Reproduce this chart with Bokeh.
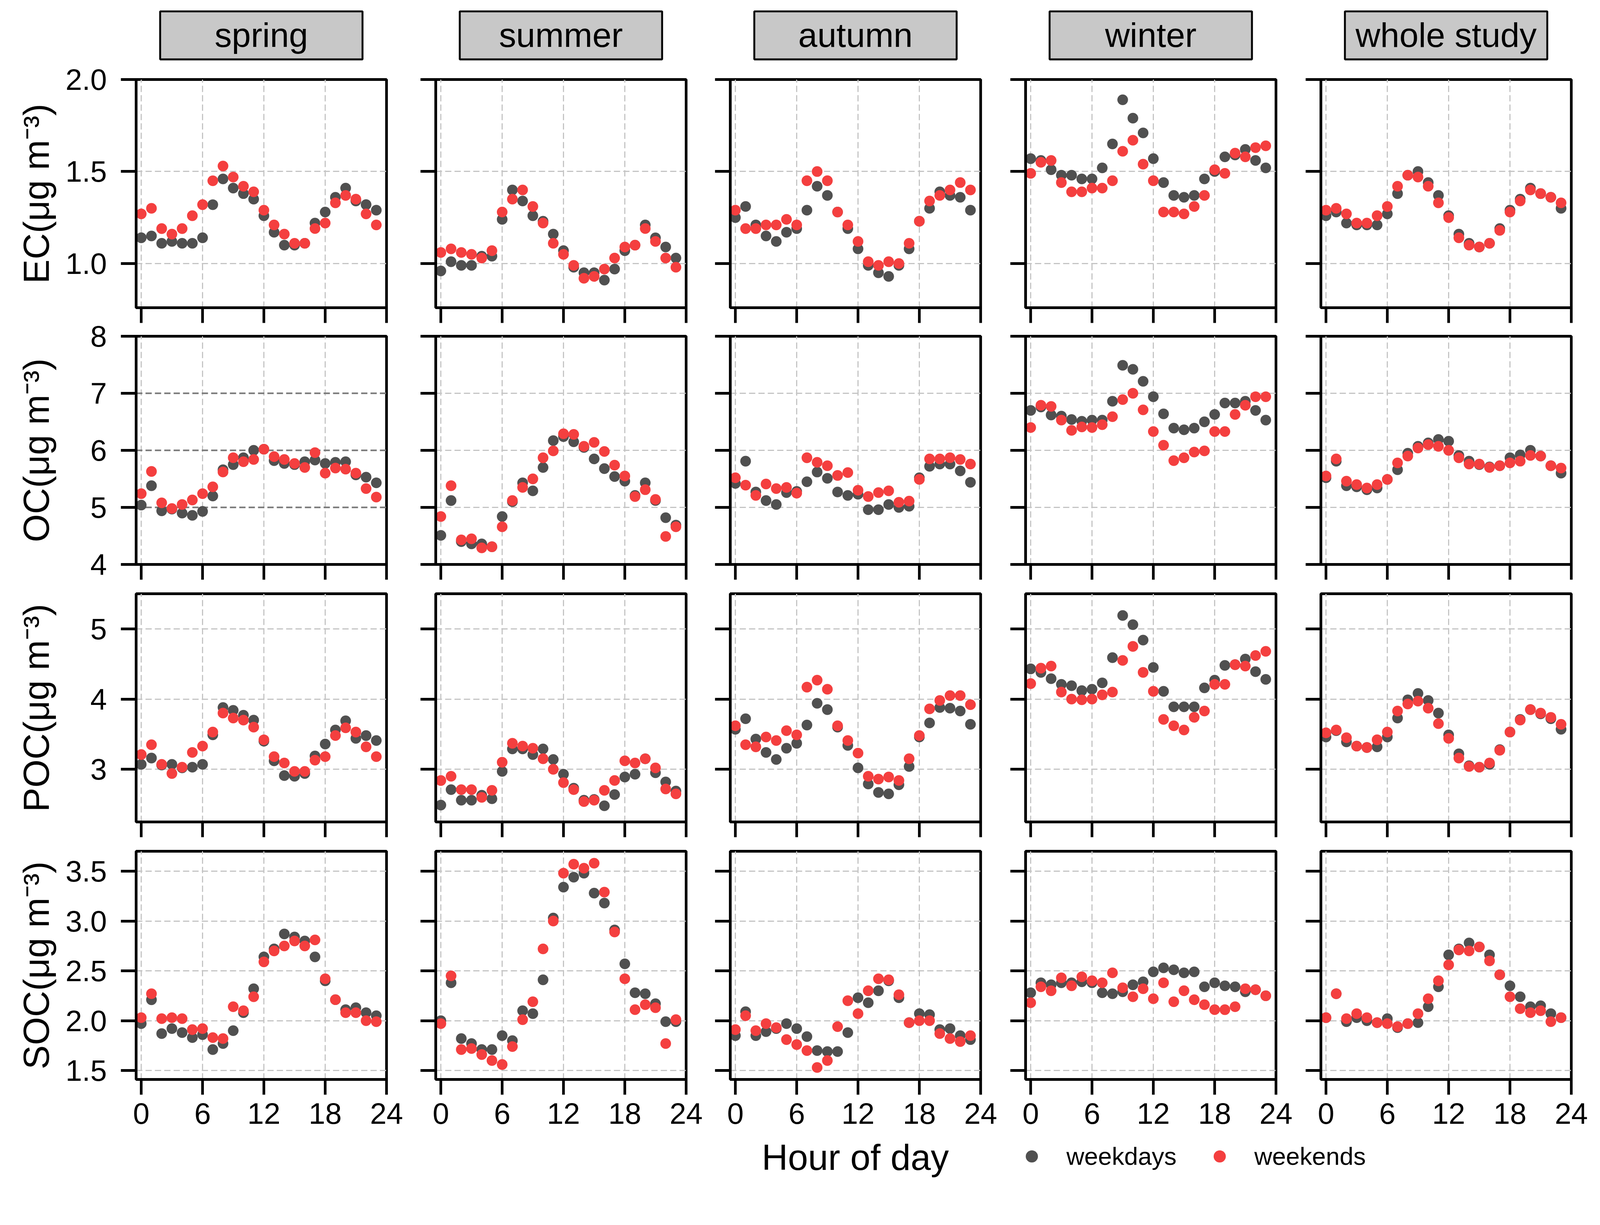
from bokeh.plotting import figure
from bokeh.layouts import row, column
from bokeh.models import (FixedTicker, CustomJSTickFormatter, NumeralTickFormatter,
                          Range1d, Label, Legend, LegendItem)
from bokeh.core.properties import value
from bokeh.embed import file_html
from bokeh.resources import INLINE

# ---------------- data ----------------
hours = list(range(24))
seasons = ["spring", "summer", "autumn", "winter", "whole study"]
species = ["EC", "OC", "POC", "SOC"]
x_ticks = [0, 6, 12, 18, 24]

# EC
ec_spring_wd = [1.14, 1.15, 1.11, 1.12, 1.11, 1.11, 1.14, 1.32, 1.46, 1.41, 1.38, 1.35, 1.26, 1.17, 1.10, 1.10, 1.11, 1.22, 1.28, 1.36, 1.41, 1.34, 1.32, 1.29]
ec_spring_we = [1.27, 1.30, 1.19, 1.16, 1.19, 1.26, 1.32, 1.45, 1.53, 1.47, 1.42, 1.39, 1.29, 1.21, 1.16, 1.11, 1.11, 1.19, 1.22, 1.33, 1.37, 1.35, 1.27, 1.21]
ec_summer_wd = [0.96, 1.01, 0.99, 0.99, 1.04, 1.04, 1.24, 1.40, 1.34, 1.26, 1.23, 1.16, 1.07, 0.98, 0.95, 0.95, 0.91, 0.97, 1.07, 1.10, 1.21, 1.14, 1.09, 1.03]
ec_summer_we = [1.06, 1.08, 1.06, 1.05, 1.03, 1.07, 1.28, 1.35, 1.40, 1.31, 1.22, 1.11, 1.05, 0.99, 0.92, 0.93, 0.97, 1.03, 1.09, 1.10, 1.19, 1.12, 1.03, 0.98]
ec_autumn_wd = [1.25, 1.31, 1.21, 1.15, 1.12, 1.17, 1.19, 1.29, 1.42, 1.37, 1.28, 1.19, 1.08, 0.99, 0.95, 0.93, 0.99, 1.08, 1.23, 1.30, 1.39, 1.37, 1.36, 1.29]
ec_autumn_we = [1.29, 1.19, 1.19, 1.21, 1.21, 1.24, 1.21, 1.45, 1.50, 1.45, 1.28, 1.21, 1.12, 1.01, 0.99, 1.01, 1.00, 1.11, 1.23, 1.34, 1.37, 1.40, 1.44, 1.40]
ec_winter_wd = [1.57, 1.56, 1.51, 1.48, 1.48, 1.46, 1.46, 1.52, 1.65, 1.89, 1.79, 1.71, 1.57, 1.44, 1.37, 1.36, 1.37, 1.46, 1.50, 1.58, 1.59, 1.62, 1.56, 1.52]
ec_winter_we = [1.49, 1.55, 1.56, 1.44, 1.39, 1.39, 1.41, 1.41, 1.45, 1.61, 1.67, 1.54, 1.45, 1.28, 1.28, 1.27, 1.31, 1.37, 1.51, 1.49, 1.60, 1.58, 1.63, 1.64]
ec_whole_wd = [1.26, 1.28, 1.22, 1.21, 1.21, 1.21, 1.27, 1.38, 1.48, 1.50, 1.44, 1.37, 1.26, 1.16, 1.11, 1.09, 1.11, 1.19, 1.29, 1.35, 1.41, 1.38, 1.36, 1.30]
ec_whole_we = [1.29, 1.30, 1.27, 1.22, 1.22, 1.26, 1.31, 1.42, 1.48, 1.47, 1.42, 1.33, 1.25, 1.14, 1.10, 1.09, 1.11, 1.18, 1.28, 1.34, 1.40, 1.38, 1.36, 1.33]

# OC
oc_spring_wd = [5.04, 5.38, 4.94, 4.97, 4.90, 4.86, 4.93, 5.20, 5.66, 5.75, 5.87, 6.00, 6.02, 5.82, 5.77, 5.75, 5.80, 5.83, 5.77, 5.79, 5.80, 5.57, 5.53, 5.43]
oc_spring_we = [5.24, 5.63, 5.08, 4.98, 5.05, 5.13, 5.24, 5.36, 5.62, 5.87, 5.80, 5.84, 6.02, 5.89, 5.84, 5.77, 5.70, 5.96, 5.60, 5.69, 5.67, 5.60, 5.33, 5.18]
oc_summer_wd = [4.51, 5.12, 4.40, 4.36, 4.36, 4.31, 4.84, 5.10, 5.43, 5.29, 5.70, 6.17, 6.24, 6.15, 6.05, 5.85, 5.68, 5.54, 5.46, 5.21, 5.43, 5.12, 4.82, 4.69]
oc_summer_we = [4.84, 5.38, 4.43, 4.45, 4.29, 4.31, 4.66, 5.12, 5.35, 5.50, 5.87, 5.99, 6.29, 6.28, 6.07, 6.14, 5.98, 5.74, 5.55, 5.19, 5.31, 5.14, 4.49, 4.66]
oc_autumn_wd = [5.42, 5.81, 5.27, 5.12, 5.05, 5.26, 5.28, 5.45, 5.62, 5.51, 5.27, 5.21, 5.23, 4.96, 4.96, 5.05, 5.00, 5.02, 5.52, 5.72, 5.76, 5.76, 5.64, 5.44]
oc_autumn_we = [5.52, 5.39, 5.21, 5.41, 5.33, 5.35, 5.25, 5.87, 5.79, 5.73, 5.56, 5.61, 5.30, 5.19, 5.26, 5.29, 5.09, 5.11, 5.49, 5.85, 5.85, 5.87, 5.84, 5.76]
oc_winter_wd = [6.70, 6.76, 6.62, 6.60, 6.54, 6.51, 6.53, 6.53, 6.86, 7.49, 7.42, 7.21, 6.94, 6.64, 6.39, 6.36, 6.39, 6.50, 6.63, 6.83, 6.83, 6.86, 6.70, 6.53]
oc_winter_we = [6.40, 6.79, 6.77, 6.53, 6.35, 6.41, 6.40, 6.45, 6.59, 6.89, 7.00, 6.71, 6.33, 6.09, 5.82, 5.87, 5.97, 5.99, 6.33, 6.33, 6.63, 6.79, 6.94, 6.94]
oc_whole_wd = [5.52, 5.81, 5.38, 5.36, 5.31, 5.34, 5.49, 5.66, 5.95, 6.07, 6.13, 6.19, 6.16, 5.91, 5.81, 5.75, 5.71, 5.73, 5.87, 5.92, 6.00, 5.90, 5.73, 5.60]
oc_whole_we = [5.55, 5.85, 5.46, 5.40, 5.34, 5.40, 5.49, 5.78, 5.90, 6.04, 6.10, 6.07, 6.00, 5.87, 5.76, 5.76, 5.70, 5.73, 5.78, 5.81, 5.91, 5.90, 5.73, 5.69]

# POC
poc_spring_wd = [3.07, 3.16, 3.06, 3.07, 3.02, 3.03, 3.07, 3.49, 3.88, 3.84, 3.77, 3.70, 3.40, 3.12, 2.91, 2.90, 2.94, 3.19, 3.36, 3.56, 3.69, 3.44, 3.48, 3.41]
poc_spring_we = [3.21, 3.35, 3.07, 2.94, 3.03, 3.24, 3.33, 3.53, 3.80, 3.73, 3.70, 3.60, 3.42, 3.18, 3.09, 2.97, 2.97, 3.13, 3.18, 3.48, 3.59, 3.53, 3.32, 3.18]
poc_summer_wd = [2.49, 2.71, 2.56, 2.56, 2.63, 2.58, 2.97, 3.29, 3.29, 3.21, 3.29, 3.14, 2.93, 2.73, 2.56, 2.57, 2.48, 2.64, 2.89, 2.93, 3.15, 2.95, 2.82, 2.69]
poc_summer_we = [2.84, 2.90, 2.71, 2.71, 2.60, 2.70, 3.10, 3.37, 3.33, 3.30, 3.15, 3.00, 2.81, 2.71, 2.54, 2.56, 2.70, 2.84, 3.12, 3.09, 3.15, 3.02, 2.72, 2.65]
poc_autumn_wd = [3.57, 3.72, 3.43, 3.24, 3.14, 3.30, 3.37, 3.63, 3.94, 3.85, 3.60, 3.34, 3.02, 2.79, 2.67, 2.65, 2.78, 3.04, 3.46, 3.66, 3.88, 3.87, 3.83, 3.64]
poc_autumn_we = [3.62, 3.35, 3.32, 3.46, 3.41, 3.55, 3.49, 4.17, 4.27, 4.14, 3.62, 3.41, 3.23, 2.90, 2.86, 2.89, 2.84, 3.15, 3.48, 3.86, 3.98, 4.05, 4.05, 3.92]
poc_winter_wd = [4.43, 4.38, 4.29, 4.21, 4.19, 4.12, 4.14, 4.23, 4.59, 5.19, 5.06, 4.84, 4.45, 4.11, 3.89, 3.89, 3.89, 4.16, 4.27, 4.48, 4.49, 4.57, 4.39, 4.28]
poc_winter_we = [4.22, 4.44, 4.47, 4.10, 4.00, 3.99, 4.00, 4.06, 4.10, 4.55, 4.75, 4.38, 4.11, 3.71, 3.62, 3.56, 3.74, 3.83, 4.21, 4.21, 4.49, 4.47, 4.62, 4.68]
poc_whole_wd = [3.46, 3.55, 3.39, 3.33, 3.31, 3.32, 3.46, 3.73, 3.99, 4.08, 3.98, 3.80, 3.49, 3.22, 3.05, 3.03, 3.07, 3.28, 3.53, 3.71, 3.85, 3.79, 3.72, 3.57]
poc_whole_we = [3.52, 3.56, 3.45, 3.33, 3.31, 3.42, 3.53, 3.83, 3.93, 3.97, 3.87, 3.65, 3.44, 3.16, 3.04, 3.03, 3.09, 3.27, 3.53, 3.70, 3.85, 3.80, 3.74, 3.64]

# SOC
soc_spring_wd = [1.97, 2.21, 1.87, 1.92, 1.88, 1.83, 1.86, 1.71, 1.77, 1.90, 2.08, 2.32, 2.64, 2.72, 2.87, 2.84, 2.80, 2.64, 2.40, 2.21, 2.11, 2.13, 2.08, 2.05]
soc_spring_we = [2.03, 2.27, 2.02, 2.03, 2.02, 1.91, 1.92, 1.83, 1.82, 2.14, 2.10, 2.24, 2.59, 2.70, 2.75, 2.80, 2.75, 2.81, 2.42, 2.21, 2.08, 2.08, 2.00, 1.99]
soc_summer_wd = [2.00, 2.38, 1.82, 1.77, 1.71, 1.71, 1.85, 1.80, 2.10, 2.07, 2.41, 3.03, 3.34, 3.44, 3.48, 3.28, 3.18, 2.91, 2.57, 2.28, 2.27, 2.17, 1.99, 1.99]
soc_summer_we = [1.97, 2.45, 1.71, 1.72, 1.66, 1.60, 1.56, 1.74, 2.01, 2.19, 2.72, 3.00, 3.48, 3.57, 3.53, 3.58, 3.29, 2.89, 2.42, 2.11, 2.16, 2.13, 1.77, 2.01]
soc_autumn_wd = [1.85, 2.09, 1.85, 1.89, 1.92, 1.97, 1.92, 1.84, 1.70, 1.69, 1.69, 1.88, 2.23, 2.18, 2.30, 2.40, 2.23, 1.98, 2.07, 2.06, 1.91, 1.92, 1.85, 1.81]
soc_autumn_we = [1.91, 2.05, 1.90, 1.97, 1.93, 1.81, 1.76, 1.70, 1.53, 1.60, 1.94, 2.20, 2.07, 2.30, 2.42, 2.41, 2.26, 1.98, 2.00, 2.00, 1.87, 1.82, 1.79, 1.85]
soc_winter_wd = [2.28, 2.38, 2.36, 2.38, 2.38, 2.39, 2.38, 2.28, 2.27, 2.29, 2.36, 2.39, 2.49, 2.53, 2.51, 2.48, 2.49, 2.34, 2.38, 2.35, 2.34, 2.29, 2.31, 2.25]
soc_winter_we = [2.18, 2.34, 2.30, 2.43, 2.35, 2.44, 2.40, 2.38, 2.48, 2.33, 2.24, 2.32, 2.22, 2.38, 2.19, 2.30, 2.21, 2.16, 2.11, 2.11, 2.14, 2.32, 2.31, 2.25]
soc_whole_wd = [2.03, 2.27, 1.99, 2.03, 2.00, 1.98, 2.02, 1.93, 1.97, 1.98, 2.14, 2.34, 2.66, 2.72, 2.78, 2.74, 2.66, 2.46, 2.35, 2.24, 2.14, 2.15, 2.07, 2.03]
soc_whole_we = [2.03, 2.27, 2.02, 2.07, 2.03, 1.98, 1.97, 1.94, 1.97, 2.07, 2.22, 2.40, 2.56, 2.71, 2.70, 2.74, 2.60, 2.46, 2.24, 2.12, 2.08, 2.10, 1.99, 2.03]

weekdays = {
    "EC": [ec_spring_wd, ec_summer_wd, ec_autumn_wd, ec_winter_wd, ec_whole_wd],
    "OC": [oc_spring_wd, oc_summer_wd, oc_autumn_wd, oc_winter_wd, oc_whole_wd],
    "POC": [poc_spring_wd, poc_summer_wd, poc_autumn_wd, poc_winter_wd, poc_whole_wd],
    "SOC": [soc_spring_wd, soc_summer_wd, soc_autumn_wd, soc_winter_wd, soc_whole_wd],
}
weekends = {
    "EC": [ec_spring_we, ec_summer_we, ec_autumn_we, ec_winter_we, ec_whole_we],
    "OC": [oc_spring_we, oc_summer_we, oc_autumn_we, oc_winter_we, oc_whole_we],
    "POC": [poc_spring_we, poc_summer_we, poc_autumn_we, poc_winter_we, poc_whole_we],
    "SOC": [soc_spring_we, soc_summer_we, soc_autumn_we, soc_winter_we, soc_whole_we],
}
y_limits = {"EC": (0.76, 2.0), "OC": (4.0, 8.0), "POC": (2.25, 5.5), "SOC": (1.41, 3.70)}
y_ticks = {"EC": [1.0, 1.5, 2.0], "OC": [4, 5, 6, 7, 8], "POC": [3, 4, 5], "SOC": [1.5, 2.0, 2.5, 3.0, 3.5]}
y_format = {"EC": "0.0", "OC": "0", "POC": "0", "SOC": "0.0"}

# ---------------- style / layout (page px) ----------------
FONT = "Liberation Sans"
DARK = "#505050"
RED = "#f43f3f"
GRID = "#c4c4c4"
S = 1 / 1.025                      # rendering scale compensation


def px(v):
    return v * S


FRAME_W = round(px(657))
FRAME_H = round(px(599))
COL_L = [round(px(v)) for v in (365, 1151, 1924, 2699, 3474)]
ROW_T = [round(px(v)) for v in (216, 890, 1565, 2241)]
RIGHT_B = [47, 47, 47, 47, 50]
LEFT_B = []
fig_left = 8
for j in range(5):
    LEFT_B.append(COL_L[j] - fig_left)
    fig_left = COL_L[j] + FRAME_W + RIGHT_B[j]
col_widths = [LEFT_B[j] + FRAME_W + RIGHT_B[j] for j in range(5)]
total_w = sum(col_widths)

TOP_B1 = 48
HEADER_H = ROW_T[0] - TOP_B1 - 8
BOTTOM_B = [40, 40, 40, 146]
TOP_B = [TOP_B1]
for i in range(1, 4):
    TOP_B.append(ROW_T[i] - (ROW_T[i - 1] + FRAME_H + BOTTOM_B[i - 1]))
strip_top = ROW_T[3] + FRAME_H + BOTTOM_B[3]
CONTENT_BOTTOM = round(px(3102))
strip_h = CONTENT_BOTTOM - strip_top

TICK = round(px(40))
LW = px(7)
TICK_FONT = "%.1fpx" % px(78)
YLAB_FONT = "%.1fpx" % px(95)
YLAB_STANDOFF = {"EC": 20, "OC": 83, "POC": 83, "SOC": 20}
MARKER = px(28)
BOX_W = px(531)
BOX_TOP = px(37.5) - 8
BOX_BOT = px(163.5) - 8
HEADER_TEXT_Y = px(100) - 8

blank = CustomJSTickFormatter(code="return ''")


def hide_labels(axis):
    axis.formatter = blank
    axis.major_label_text_font_size = "1px"
    axis.major_label_standoff = 0


def make_panel(i, sp, j):
    p = figure(frame_width=FRAME_W, frame_height=FRAME_H,
               x_range=Range1d(-0.5, 24), y_range=Range1d(*y_limits[sp]),
               min_border_left=LEFT_B[j], min_border_right=RIGHT_B[j],
               min_border_top=TOP_B[i], min_border_bottom=BOTTOM_B[i],
               toolbar_location=None, output_backend="svg", title=None)
    p.outline_line_color = "black"
    p.outline_line_width = LW
    for ax in (p.xaxis, p.yaxis):
        ax.axis_line_width = LW
        ax.major_tick_line_width = LW
        ax.major_tick_out = TICK
        ax.major_tick_in = 0
        ax.minor_tick_line_color = None
        ax.major_label_text_font = FONT
        ax.major_label_text_font_size = TICK_FONT
        ax.major_label_text_color = "black"
    p.xaxis.ticker = FixedTicker(ticks=x_ticks)
    p.yaxis.ticker = FixedTicker(ticks=y_ticks[sp])
    p.xaxis.major_label_standoff = 21
    p.yaxis.major_label_standoff = 36
    p.yaxis.formatter = NumeralTickFormatter(format=y_format[sp])
    if i != 3:
        hide_labels(p.xaxis)
    if j != 0:
        hide_labels(p.yaxis)
    else:
        p.yaxis.axis_label = sp + "(\u03bcg m\u207b\u00b3)"
        p.yaxis.axis_label_text_font = FONT
        p.yaxis.axis_label_text_font_size = YLAB_FONT
        p.yaxis.axis_label_text_font_style = "normal"
        p.yaxis.axis_label_text_color = "black"
        p.yaxis.axis_label_standoff = YLAB_STANDOFF[sp]
    for g in (p.xgrid, p.ygrid):
        g.grid_line_color = GRID
        g.grid_line_width = px(3)
        g.grid_line_dash = "16 8"
    if sp == "OC" and j == 0:
        p.ygrid.grid_line_color = "#777777"
        p.ygrid.grid_line_width = px(4)
    p.scatter(x=hours, y=weekdays[sp][j], size=MARKER, fill_color=DARK, line_color=None)
    p.scatter(x=hours, y=weekends[sp][j], size=MARKER, fill_color=RED, line_color=None)
    return p


def make_header(j, name):
    w = col_widths[j]
    h = figure(width=w, height=HEADER_H, x_range=Range1d(0, w), y_range=Range1d(HEADER_H, 0),
               min_border=0, toolbar_location=None, output_backend="svg", title=None,
               x_axis_type=None, y_axis_type=None)
    h.grid.visible = False
    h.outline_line_color = None
    cx = LEFT_B[j] + FRAME_W / 2
    h.quad(left=[cx - BOX_W / 2], right=[cx + BOX_W / 2], top=[BOX_TOP], bottom=[BOX_BOT],
           fill_color="#c8c8c8", line_color="black", line_width=px(5))
    h.text(x=[cx], y=[HEADER_TEXT_Y], text=[name], text_align="center", text_baseline="alphabetic",
           text_font=value(FONT), text_font_size=value("%.1fpx" % px(90)), text_color="black")
    return h


headers = row(*[make_header(j, s) for j, s in enumerate(seasons)])
panel_rows = [row(*[make_panel(i, sp, j) for j in range(5)]) for i, sp in enumerate(species)]

# bottom strip: x label + legend (strip data units = page px)
strip = figure(width=total_w, height=strip_h, x_range=Range1d(8, 8 + total_w),
               y_range=Range1d(strip_top + strip_h, strip_top),
               min_border=0, toolbar_location=None, output_backend="svg", title=None,
               x_axis_type=None, y_axis_type=None)
strip.grid.visible = False
strip.outline_line_color = None
strip.add_layout(Label(x=px(2252), y=px(3044), text="Hour of day", text_align="center",
                       text_baseline="alphabetic", text_font=FONT,
                       text_font_size="%.1fpx" % px(95), text_color="black"))
# legend anchors lie outside the strip's visible ranges
r_wd = strip.scatter(x=[hours[0]], y=[ec_spring_wd[0]], fill_color=DARK, line_color=None)
r_we = strip.scatter(x=[hours[0]], y=[ec_spring_we[0]], fill_color=RED, line_color=None)
GLYPH = round(px(80))
legend = Legend(items=[LegendItem(label="weekdays", renderers=[r_wd]),
                       LegendItem(label="weekends", renderers=[r_we])],
                orientation="horizontal",
                location=(round(px(2715)) - GLYPH // 2 - 8, CONTENT_BOTTOM - round(px(3081))),
                glyph_width=GLYPH, glyph_height=GLYPH, label_standoff=50, spacing=71,
                padding=0, margin=0, border_line_color=None, background_fill_alpha=0,
                label_text_font=FONT, label_text_font_size="%.1fpx" % px(65),
                label_text_color="black")
strip.add_layout(legend)

layout = column(headers, *panel_rows, strip)
open("out.html", "w").write(file_html(layout, INLINE))
